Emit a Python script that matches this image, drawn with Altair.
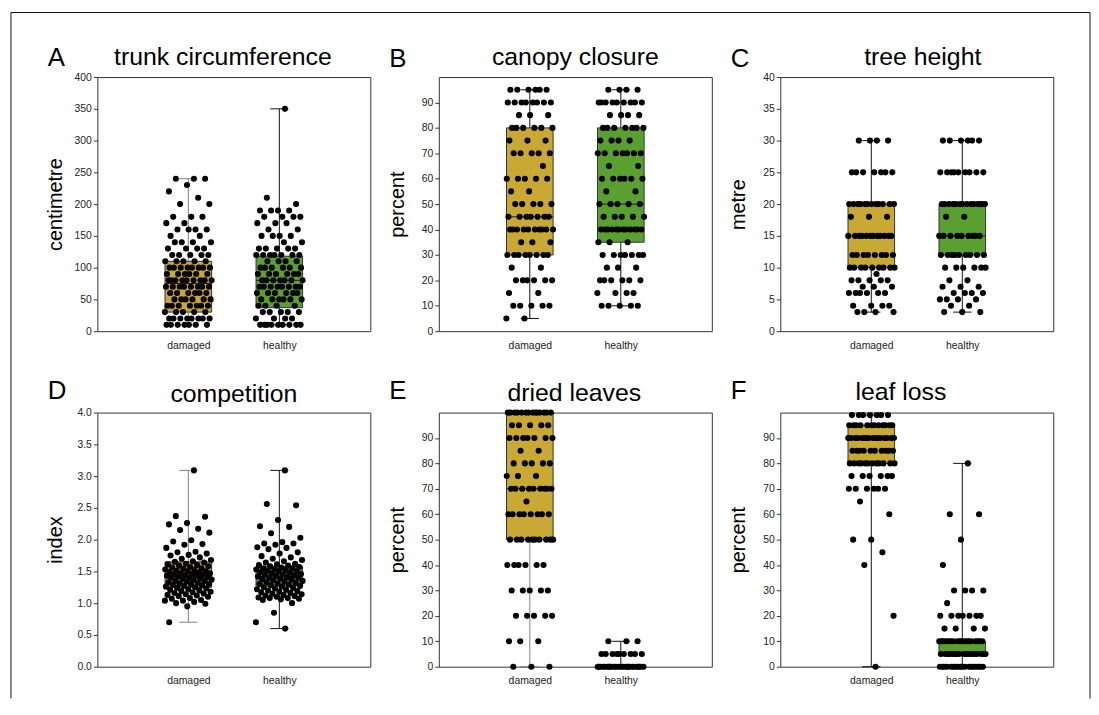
import altair as alt
import pandas as pd

FONT = "Liberation Sans"
groups = ["damaged", "healthy"]
positions = [1, 2]
DAM_COLOR = "#C9A834"
HEA_COLOR = "#5AA030"

# ---------------- data ----------------
# A: trunk circumference (centimetre)
A_dam_vals = [240, 230, 220, 210, 200, 180, 170, 160, 150, 140, 130, 120, 110, 100, 90, 80, 70, 60, 50, 40, 30, 20, 10]
A_dam_cnts = [3, 1, 1, 1, 2, 3, 2, 4, 2, 4, 4, 5, 5, 8, 6, 9, 8, 6, 6, 7, 5, 8, 7]
A_hea_vals = [350, 210, 200, 190, 180, 170, 160, 150, 140, 130, 120, 110, 100, 90, 80, 70, 60, 50, 40, 30, 20, 10]
A_hea_cnts = [1, 1, 1, 4, 4, 3, 2, 4, 2, 5, 7, 4, 6, 6, 7, 8, 6, 6, 4, 5, 4, 9]
A_stats = {"q1": [30, 37], "med": [75, 80], "q3": [110, 118], "lo": [10, 10], "hi": [240, 350]}

# B: canopy closure (percent)
B_dam_vals = [95, 90, 85, 80, 75, 70, 65, 60, 55, 50, 45, 40, 35, 30, 25, 20, 15, 10, 5]
B_dam_cnts = [6, 8, 3, 6, 3, 5, 1, 5, 2, 5, 7, 10, 3, 8, 2, 6, 2, 5, 2]
B_hea_vals = [95, 90, 85, 80, 75, 70, 65, 60, 55, 50, 45, 40, 35, 30, 25, 20, 15, 10]
B_hea_cnts = [4, 9, 4, 7, 4, 7, 2, 6, 2, 5, 5, 12, 3, 7, 3, 6, 4, 5]
B_stats = {"q1": [30, 35], "med": [45, 50], "q3": [80, 80], "lo": [5, 10], "hi": [95, 95]}

# C: tree height (metre)
C_dam_vals = [30, 25, 20, 18, 15, 12, 10, 9, 8, 7, 6, 4, 3]
C_dam_cnts = [4, 7, 12, 3, 12, 8, 9, 1, 5, 3, 6, 4, 4]
C_hea_vals = [30, 25, 20, 18, 15, 12, 10, 8, 7, 6, 5, 4, 3]
C_hea_cnts = [6, 9, 14, 2, 9, 9, 6, 2, 3, 4, 4, 2, 3]
C_stats = {"q1": [10, 12], "med": [15, 15], "q3": [20, 20], "lo": [3, 3], "hi": [30, 30]}

# D: competition (index)
D_dam_vals = [3.09, 2.37, 2.36, 2.26, 2.24, 2.17, 2.15, 2.11, 1.99, 1.97, 1.93, 1.92, 1.87, 1.81, 1.80,
              1.78, 1.76, 1.75, 1.72, 1.70, 1.68, 1.66, 1.65, 1.64, 1.62, 1.61, 1.60, 1.59, 1.58, 1.57,
              1.56, 1.55, 1.54, 1.53, 1.52, 1.51, 1.50, 1.50, 1.49, 1.48, 1.47, 1.47, 1.46, 1.45, 1.45,
              1.44, 1.43, 1.43, 1.42, 1.41, 1.40, 1.40, 1.39, 1.38, 1.37, 1.36, 1.35, 1.35, 1.34, 1.33,
              1.32, 1.31, 1.30, 1.30, 1.29, 1.28, 1.27, 1.26, 1.25, 1.24, 1.23, 1.22, 1.21, 1.20, 1.19,
              1.18, 1.17, 1.16, 1.15, 1.14, 1.13, 1.12, 1.11, 1.10, 1.08, 1.07, 1.05, 1.04, 1.04, 1.02,
              1.00, 0.99, 0.95, 0.70]
D_hea_vals = [3.09, 2.56, 2.54, 2.31, 2.21, 2.20, 2.10, 2.03, 1.96, 1.94, 1.94, 1.92, 1.88, 1.87, 1.85,
              1.80, 1.78, 1.74, 1.72, 1.70, 1.68, 1.66, 1.64, 1.62, 1.61, 1.60, 1.59, 1.58, 1.57, 1.56,
              1.55, 1.55, 1.54, 1.53, 1.52, 1.51, 1.50, 1.50, 1.49, 1.48, 1.47, 1.46, 1.45, 1.45, 1.44,
              1.43, 1.42, 1.41, 1.40, 1.40, 1.39, 1.38, 1.37, 1.36, 1.35, 1.34, 1.33, 1.32, 1.31, 1.30,
              1.29, 1.28, 1.27, 1.26, 1.25, 1.24, 1.23, 1.22, 1.21, 1.20, 1.19, 1.18, 1.17, 1.16, 1.15,
              1.14, 1.13, 1.12, 1.11, 1.10, 1.09, 1.08, 1.08, 1.07, 1.06, 1.05, 1.00, 0.85, 0.70, 0.60]
D_stats = {"q1": [1.25, 1.27], "med": [1.42, 1.42], "q3": [1.65, 1.58], "lo": [0.70, 0.60], "hi": [3.09, 3.09]}

# E: dried leaves (percent)
E_dam_vals = [100, 95, 90, 85, 80, 75, 70, 65, 60, 50, 40, 30, 20, 10, 0]
E_dam_cnts = [14, 5, 7, 2, 5, 3, 9, 1, 8, 10, 6, 5, 5, 3, 3]
E_hea_vals = [10, 5, 0]
E_hea_cnts = [3, 9, 25]
E_stats = {"q1": [50, 0], "med": [70, 0], "q3": [100, 0], "lo": [0, 0], "hi": [100, 10]}

# F: leaf loss (percent)
F_dam_vals = [99, 95, 90, 85, 80, 75, 70, 65, 60, 50, 45, 40, 20, 0]
F_dam_cnts = [7, 12, 16, 10, 12, 6, 6, 1, 1, 2, 1, 1, 1, 1]
F_hea_vals = [80, 60, 50, 40, 30, 25, 20, 15, 10, 5, 0]
F_hea_cnts = [1, 2, 1, 1, 4, 1, 7, 4, 18, 18, 18]
F_stats = {"q1": [80, 5], "med": [90, 5], "q3": [95, 10], "lo": [0, 0], "hi": [99, 80]}


def expand(vals, cnts=None):
    out = []
    for i, v in enumerate(vals):
        n = 1 if cnts is None else cnts[i]
        for _ in range(n):
            out.append(v)
    return out


def points_df(dam, hea):
    rows = []
    for g, p, vals in zip(groups, positions, [dam, hea]):
        for v in vals:
            rows.append({"group": g, "pos": p, "value": v})
    return pd.DataFrame(rows)


def stats_df(st):
    d = {"group": groups, "pos": positions}
    d.update(st)
    return pd.DataFrame(d)


W, H = 275, 256


def panel(letter, title, ytitle, ydom, yticks, yfmt, pdf, sdf, dam_whisker,
          title_dx, letter_y, title_y, frame=False):
    xs = alt.Scale(domain=[0, 3], nice=False, zero=False)
    xax = alt.Axis(values=[1, 2], labelExpr="datum.value == 1 ? 'damaged' : 'healthy'",
                   ticks=False, domain=False, grid=False, labelPadding=9,
                   labelFontSize=10.5, labelFont=FONT, labelColor="#222", title=None)
    ys = alt.Scale(domain=ydom, nice=False, zero=False)
    yax = alt.Axis(values=yticks, format=yfmt, grid=False, ticks=True, tickSize=4,
                   tickColor="#333", domain=False, labelPadding=2, labelFontSize=10.5,
                   labelFont=FONT, labelColor="#222", title=ytitle, titleX=-36, titleY=H / 2,
                   titleAngle=270, titleBaseline="alphabetic", titleAlign="center",
                   titleFontSize=20, titleFontWeight="normal", titleFont=FONT, titleColor="black")

    def X(f):
        return alt.X(f, scale=xs, axis=xax)

    def Y(f):
        return alt.Y(f, scale=ys, axis=yax)

    sbase = alt.Chart(sdf).transform_calculate(
        bl="datum.pos - 0.256", br="datum.pos + 0.256",
        cl="datum.pos - 0.1", cr="datum.pos + 0.1")

    whisk = sbase.mark_rule(strokeWidth=1).encode(
        x=X("pos:Q"), y=Y("lo:Q"), y2="hi:Q",
        color=alt.condition("datum.group == 'damaged'", alt.value(dam_whisker), alt.value("#111")))
    box = sbase.mark_rect(stroke="#333", strokeWidth=1).encode(
        x=X("bl:Q"), x2="br:Q", y=Y("q1:Q"), y2="q3:Q",
        fill=alt.Fill("group:N", scale=alt.Scale(domain=groups, range=[DAM_COLOR, HEA_COLOR]), legend=None))
    med = sbase.mark_rule(color="#222", strokeWidth=1).encode(
        x=X("bl:Q"), x2="br:Q", y=Y("med:Q"))
    cap_lo = sbase.mark_rule(strokeWidth=1).encode(
        x=X("cl:Q"), x2="cr:Q", y=Y("lo:Q"),
        color=alt.condition("datum.group == 'damaged'", alt.value(dam_whisker), alt.value("#111")))
    cap_hi = sbase.mark_rule(strokeWidth=1).encode(
        x=X("cl:Q"), x2="cr:Q", y=Y("hi:Q"),
        color=alt.condition("datum.group == 'damaged'", alt.value(dam_whisker), alt.value("#111")))

    pts = alt.Chart(pdf).transform_window(
        rn="row_number()", groupby=["group"]
    ).transform_calculate(
        px="datum.pos + (((datum.rn * 0.6180339887) % 1) - 0.5) * 0.52"
    ).mark_circle(size=38, color="black", opacity=1).encode(
        x=X("px:Q"), y=Y("value:Q"))

    letter_t = alt.Chart(pd.DataFrame({"t": [letter]})).mark_text(
        align="left", baseline="alphabetic", fontSize=26, font=FONT, color="black"
    ).encode(text="t:N", x=alt.value(-50), y=alt.value(letter_y))
    title_t = alt.Chart(pd.DataFrame({"t": [title]})).mark_text(
        align="center", baseline="alphabetic", fontSize=25, font=FONT, color="black"
    ).encode(text="t:N", x=alt.value(W / 2 + title_dx), y=alt.value(title_y))

    layers = [whisk, box, med, cap_lo, cap_hi, pts, letter_t, title_t]
    if frame:
        one = pd.DataFrame({"k": [0]})
        fl = alt.Chart(one).mark_rule(color="#111", strokeWidth=1).encode(
            x=alt.value(-87), y=alt.value(-65), y2=alt.value(626))
        fr = alt.Chart(one).mark_rule(color="#111", strokeWidth=1).encode(
            x=alt.value(1000), y=alt.value(-65), y2=alt.value(626))
        ft = alt.Chart(one).mark_rule(color="#111", strokeWidth=1).encode(
            x=alt.value(-87), x2=alt.value(1000), y=alt.value(-65))
        layers += [fl, fr, ft]
    return alt.layer(*layers).properties(width=W, height=H)


pA = panel("A", "trunk circumference", "centimetre", [0, 400], list(range(0, 401, 50)), "d",
           points_df(expand(A_dam_vals, A_dam_cnts), expand(A_hea_vals, A_hea_cnts)),
           stats_df(A_stats), "#808080", -11, -11, -12, frame=True)
pB = panel("B", "canopy closure", "percent", [0, 100], list(range(0, 91, 10)), "d",
           points_df(expand(B_dam_vals, B_dam_cnts), expand(B_hea_vals, B_hea_cnts)),
           stats_df(B_stats), "#111", 0, -10, -12)
pC = panel("C", "tree height", "metre", [0, 40], list(range(0, 41, 5)), "d",
           points_df(expand(C_dam_vals, C_dam_cnts), expand(C_hea_vals, C_hea_cnts)),
           stats_df(C_stats), "#111", 6, -10, -12)
pD = panel("D", "competition", "index", [0, 4], [0, 0.5, 1, 1.5, 2, 2.5, 3, 3.5, 4], ".1f",
           points_df(expand(D_dam_vals), expand(D_hea_vals)),
           stats_df(D_stats), "#808080", 0, -14, -11)
pE = panel("E", "dried leaves", "percent", [0, 100], list(range(0, 91, 10)), "d",
           points_df(expand(E_dam_vals, E_dam_cnts), expand(E_hea_vals, E_hea_cnts)),
           stats_df(E_stats), "#808080", -1, -14, -12)
pF = panel("F", "leaf loss", "percent", [0, 100], list(range(0, 91, 10)), "d",
           points_df(expand(F_dam_vals, F_dam_cnts), expand(F_hea_vals, F_hea_cnts)),
           stats_df(F_stats), "#111", -16, -14, -13)

chart = alt.concat(
    pA, pB, pC, pD, pE, pF, columns=3,
    spacing={"row": 82, "column": 69}, bounds="flush"
).properties(
    padding={"left": 2, "top": 1, "right": 0, "bottom": 0}, background="white"
).configure_view(stroke="#333", strokeWidth=1)

chart.save("out.html", embed_options={"renderer": "svg", "actions": False})
